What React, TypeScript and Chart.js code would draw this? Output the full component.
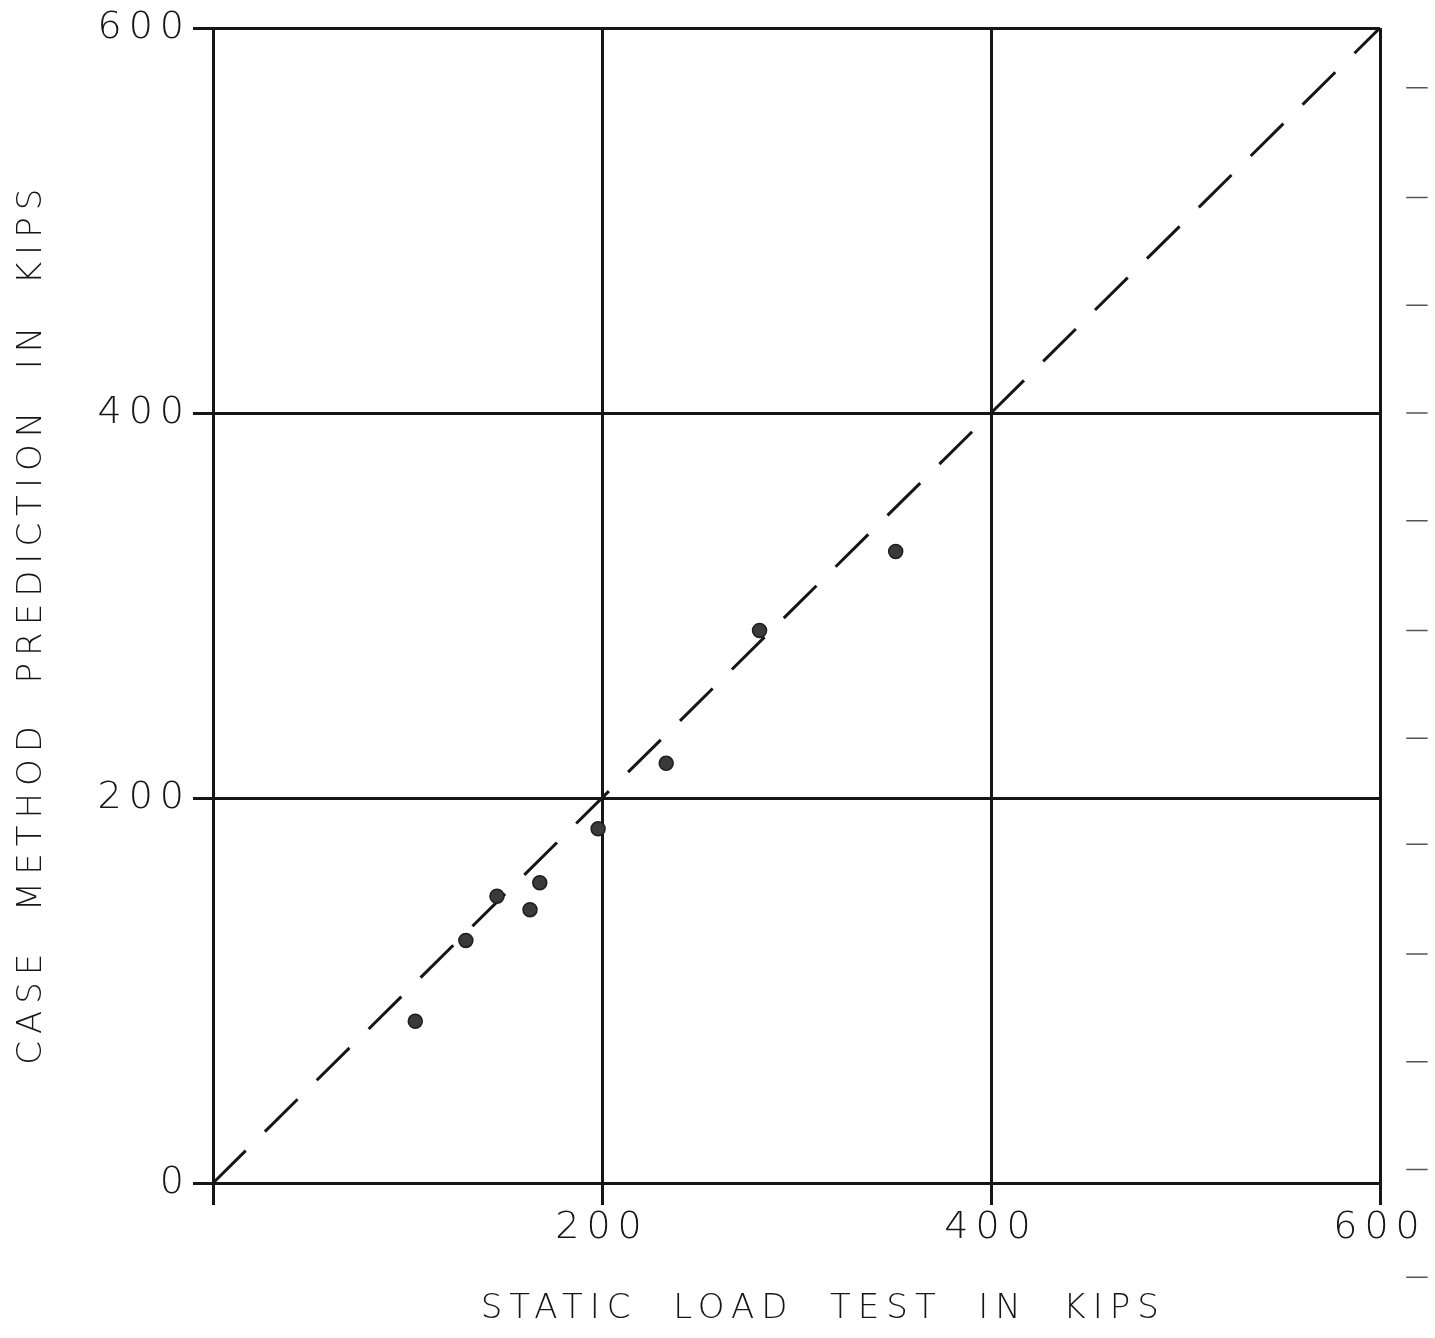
import React, { useEffect, useRef } from "react";
import { Chart, registerables } from "chart.js";

Chart.register(...registerables);

// Measured data: static load test (x) vs case method prediction (y), kips
const staticLoad = [104, 130, 146, 163, 168, 198, 233, 281, 351];
const casePrediction = [84, 126, 149, 142, 156, 184, 218, 287, 328];

// Line of equality
const equalityX = [0, 600];
const equalityY = [0, 600];

// Tick labels
const xTickLabels = ["", "200", "400", "600"];
const yTickLabels = ["0", "200", "400", "600"];

// Short edge marks printed beyond the right border (graph-paper edge), in data units
const edgeMarkX = 619;
const edgeMarkHalfLen = 5.5;
const edgeMarkY = [569, 512, 456, 400, 344, 287, 231, 176, 119, 63, 7, -49];

const INK = "#161616";
const FONT = "'DejaVu Sans', 'Liberation Sans', sans-serif";

const letterSpacingPlugin = {
  id: "letterSpacing",
  beforeInit(chart: any) {
    (chart.ctx as any).letterSpacing = "7px";
  },
  beforeLayout(chart: any) {
    (chart.ctx as any).letterSpacing = "7px";
  },
  beforeDraw(chart: any) {
    (chart.ctx as any).letterSpacing = "7px";
  },
};

const edgeMarksPlugin = {
  id: "edgeMarks",
  afterDatasetsDraw(chart: any) {
    const { ctx, scales } = chart;
    const xs = scales.x;
    const ys = scales.y;
    const x0 = xs.getPixelForValue(edgeMarkX - edgeMarkHalfLen);
    const x1 = xs.getPixelForValue(edgeMarkX + edgeMarkHalfLen);
    ctx.save();
    ctx.strokeStyle = "#555555";
    ctx.lineWidth = 1.5;
    ctx.beginPath();
    edgeMarkY.forEach((v) => {
      const y = ys.getPixelForValue(v);
      ctx.moveTo(x0, y);
      ctx.lineTo(x1, y);
    });
    ctx.stroke();
    ctx.restore();
  },
};

export default function App() {
  const ref = useRef<HTMLCanvasElement | null>(null);

  useEffect(() => {
    document.body.style.margin = "0";
    document.body.style.background = "#ffffff";
    const canvas = ref.current;
    if (!canvas) return;

    const chart = new Chart(canvas, {
      type: "scatter",
      data: {
        datasets: [
          {
            label: "Equality",
            type: "line",
            data: equalityX.map((x, i) => ({ x, y: equalityY[i] })),
            borderColor: INK,
            borderWidth: 3,
            borderDash: [46, 27],
            pointRadius: 0,
            fill: false,
            order: 2,
          } as any,
          {
            label: "Piles",
            data: staticLoad.map((x, i) => ({ x, y: casePrediction[i] })),
            backgroundColor: "#3a3a3a",
            borderColor: "#1e1e1e",
            borderWidth: 1.5,
            pointRadius: 7,
            order: 1,
          },
        ],
      },
      options: {
        animation: false,
        responsive: false,
        maintainAspectRatio: false,
        layout: { padding: { top: 28, right: 55, bottom: 0, left: 0 } },
        plugins: {
          legend: { display: false },
          tooltip: { enabled: false },
        },
        scales: {
          x: {
            type: "linear",
            min: 0,
            max: 600,
            afterFit(scale: any) {
              scale.height = 155;
            },
            afterBuildTicks(scale: any) {
              scale.ticks = [0, 200, 400, 600].map((v) => ({ value: v }));
            },
            ticks: {
              stepSize: 200,
              padding: 0,
              color: INK,
              font: { family: FONT, size: 38, weight: "200" as any },
              callback: (_v: any, i: number) => xTickLabels[i],
              maxRotation: 0,
            },
            grid: {
              color: INK,
              lineWidth: 3,
              tickLength: 22,
              drawTicks: true,
            },
            border: { color: INK, width: 3 },
            title: {
              display: true,
              text: "   STATIC  LOAD  TEST  IN  KIPS",
              color: INK,
              font: { family: FONT, size: 34, weight: "200" as any },
              padding: { top: 8, bottom: 8 },
            },
          },
          y: {
            type: "linear",
            min: 0,
            max: 600,
            afterFit(scale: any) {
              scale.width = 213;
            },
            afterBuildTicks(scale: any) {
              scale.ticks = [0, 200, 400, 600].map((v) => ({ value: v }));
            },
            ticks: {
              stepSize: 200,
              padding: 2,
              color: INK,
              font: { family: FONT, size: 38, weight: "200" as any },
              callback: (_v: any, i: number) => yTickLabels[i],
            },
            grid: {
              color: INK,
              lineWidth: 3,
              tickLength: 20,
              drawTicks: true,
            },
            border: { color: INK, width: 3 },
            title: {
              display: true,
              text: "CASE  METHOD  PREDICTION  IN  KIPS  ",
              color: INK,
              font: { family: FONT, size: 34, weight: "200" as any },
              padding: { top: 12, bottom: 12 },
            },
          },
        },
      },
      plugins: [letterSpacingPlugin, edgeMarksPlugin],
    });

    return () => chart.destroy();
  }, []);

  return (
    <div style={{ width: 1435, height: 1338, background: "#fff" }}>
      <canvas ref={ref} width={1435} height={1338} style={{ display: "block" }} />
    </div>
  );
}
